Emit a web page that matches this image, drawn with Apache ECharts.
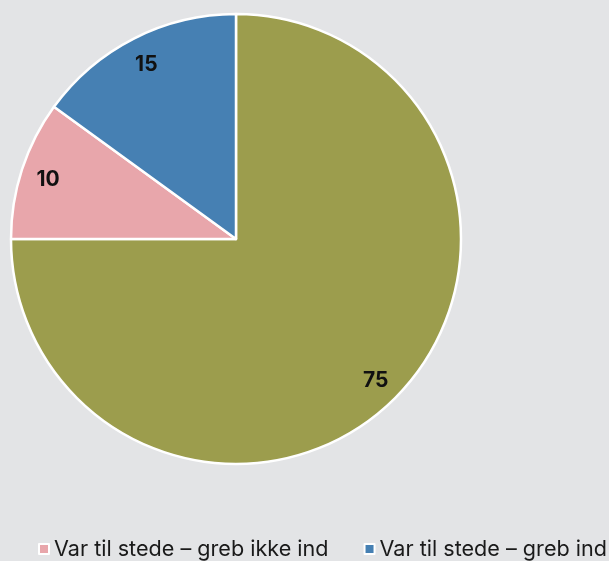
<!DOCTYPE html>
<html>
<head>
<meta charset="utf-8">
<script src="https://cdn.jsdelivr.net/npm/echarts@6/dist/echarts.min.js"></script>
<style>
  html, body { margin: 0; padding: 0; background: #e3e4e6; }
  #main { width: 609px; height: 561px; }
</style>
</head>
<body>
<div id="main"></div>
<script>
var categories = ['Var ikke til stede', 'Var til stede – greb ikke ind', 'Var til stede – greb ind'];
var values = [75, 10, 15];
var colors = ['#9c9d4d', '#e8a6ab', '#4680b3'];
var legendNames = ['Var til stede – greb ikke ind', 'Var til stede – greb ind'];

var myChart = echarts.init(document.getElementById('main'));

var pieData = categories.map(function (name, i) {
    return { name: name, value: values[i], itemStyle: { color: colors[i] } };
});

var center = [236, 239];

var option = {
    backgroundColor: '#e3e4e6',
    legend: {
        data: legendNames,
        bottom: -4,
        left: 33,
        width: 620,
        itemWidth: 10,
        itemHeight: 10,
        itemGap: 35,
        icon: 'rect',
        textStyle: { fontFamily: 'Inter', fontSize: 21.6, color: '#1a1a1a' }
    },
    series: [
        {
            type: 'pie',
            center: center,
            radius: 225,
            startAngle: 90,
            clockwise: true,
            animation: false,
            itemStyle: { borderColor: '#fff', borderWidth: 2.5 },
            label: { show: false },
            labelLine: { show: false },
            emphasis: { disabled: true },
            data: pieData
        },
        {
            // transparent ring only used to place the value labels near the rim
            type: 'pie',
            center: [center[0], center[1] + 2],
            radius: [164, 225],
            startAngle: 90,
            animation: false,
            silent: true,
            legendHoverLink: false,
            itemStyle: { color: 'transparent', borderWidth: 0 },
            label: {
                show: true,
                position: 'inside',
                formatter: '{c}',
                fontFamily: 'Inter',
                fontWeight: 'bold',
                fontSize: 21,
                color: '#111'
            },
            labelLine: { show: false },
            data: categories.map(function (name, i) {
                return { name: name + ' ', value: values[i] };
            })
        }
    ]
};

myChart.setOption(option);
window.onresize = function () {
    myChart.resize();
};
</script>
</body>
</html>
